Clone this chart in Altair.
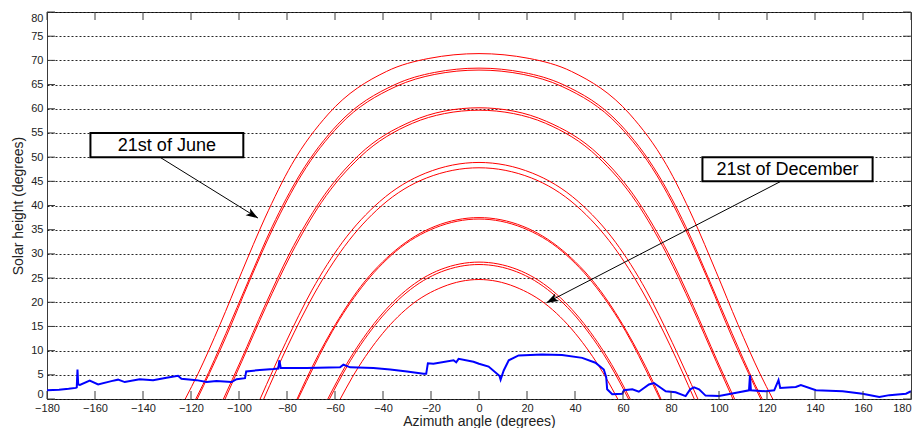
import math
import altair as alt
import pandas as pd

# ---------------- data ----------------
X_TICKS = list(range(-180, 181, 20))
Y_TICKS = list(range(0, 81, 5))

JUN_AZ = [-122.4, -117.1, -107.9, -98.8, -89.2, -78.0, -62.8, -38.6, -20.9, 0.0, 20.9, 38.6, 62.8, 78.0, 89.2, 98.8, 107.9, 117.1, 122.4]
JUN_H = [0.0, 5.2, 15.4, 26.3, 37.4, 48.5, 58.9, 67.7, 70.4, 71.4, 70.4, 67.7, 58.9, 48.5, 37.4, 26.3, 15.4, 5.2, 0.0]

JUL_AZ = [-118.0, -115.0, -105.5, -96.1, -86.2, -74.5, -58.8, -35.0, -18.6, 0.0, 18.6, 35.0, 58.8, 74.5, 86.2, 96.1, 105.5, 115.0, 118.0]
JUL_H = [0.0, 3.0, 13.5, 24.4, 35.6, 46.5, 56.8, 65.0, 67.5, 68.4, 67.5, 65.0, 56.8, 46.5, 35.6, 24.4, 13.5, 3.0, 0.0]

MAY_AZ = [-117.4, -114.7, -105.1, -95.8, -85.8, -74.0, -58.3, -34.6, -18.4, 0.0, 18.4, 34.6, 58.3, 74.0, 85.8, 95.8, 105.1, 114.7, 117.4]
MAY_H = [0.0, 2.8, 13.2, 24.2, 35.3, 46.3, 56.5, 64.6, 67.1, 68.0, 67.1, 64.6, 56.5, 46.3, 35.3, 24.2, 13.2, 2.8, 0.0]

AUG_AZ = [-106.5, -99.1, -89.3, -78.7, -66.2, -50.1, -28.1, -14.6, 0.0, 14.6, 28.1, 50.1, 66.2, 78.7, 89.3, 99.1, 106.5]
AUG_H = [0.0, 8.1, 19.2, 30.3, 40.9, 50.4, 57.4, 59.5, 60.2, 59.5, 57.4, 50.4, 40.9, 30.3, 19.2, 8.1, 0.0]

APR_AZ = [-105.8, -98.8, -88.9, -78.2, -65.7, -49.6, -27.7, -14.4, 0.0, 14.4, 27.7, 49.6, 65.7, 78.2, 88.9, 98.8, 105.8]
APR_H = [0.0, 7.8, 18.9, 30.0, 40.6, 50.0, 57.0, 59.0, 59.7, 59.0, 57.0, 50.0, 40.6, 30.0, 18.9, 7.8, 0.0]

SEP_AZ = [-91.2, -80.5, -69.6, -56.9, -41.4, -22.2, 0.0, 22.2, 41.4, 56.9, 69.6, 80.5, 91.2]
SEP_H = [0.0, 11.7, 22.5, 32.4, 40.8, 46.7, 48.9, 46.7, 40.8, 32.4, 22.5, 11.7, 0.0]

MAR_AZ = [-89.7, -79.7, -68.7, -56.1, -40.7, -21.8, 0.0, 21.8, 40.7, 56.1, 68.7, 79.7, 89.7]
MAR_H = [0.0, 11.0, 21.7, 31.5, 39.9, 45.7, 47.8, 45.7, 39.9, 31.5, 21.7, 11.0, 0.0]

FEB_AZ = [-75.8, -72.2, -61.4, -49.2, -34.9, -18.3, 0.0, 18.3, 34.9, 49.2, 61.4, 72.2, 75.8]
FEB_H = [0.0, 3.9, 14.1, 23.3, 30.7, 35.7, 37.5, 35.7, 30.7, 23.3, 14.1, 3.9, 0.0]

OCT_AZ = [-75.4, -71.9, -61.2, -49.0, -34.7, -18.2, 0.0, 18.2, 34.7, 49.0, 61.2, 71.9, 75.4]
OCT_H = [0.0, 3.6, 13.9, 23.0, 30.5, 35.4, 37.2, 35.4, 30.5, 23.0, 13.9, 3.6, 0.0]

JAN_AZ = [-63.0, -55.3, -43.7, -30.6, -15.8, 0.0, 15.8, 30.6, 43.7, 55.3, 63.0]
JAN_H = [0.0, 7.1, 15.6, 22.4, 26.8, 28.3, 26.8, 22.4, 15.6, 7.1, 0.0]

NOV_AZ = [-62.3, -54.9, -43.4, -30.4, -15.7, 0.0, 15.7, 30.4, 43.4, 54.9, 62.3]
NOV_H = [0.0, 6.8, 15.2, 21.9, 26.3, 27.8, 26.3, 21.9, 15.2, 6.8, 0.0]

DEC_AZ = [-57.8, -52.9, -41.7, -29.1, -15.0, 0.0, 15.0, 29.1, 41.7, 52.9, 57.8]
DEC_H = [0.0, 4.4, 12.6, 19.1, 23.2, 24.7, 23.2, 19.1, 12.6, 4.4, 0.0]

HORIZON_AZ = [-180, -175, -171, -168, -167.6, -167.3, -167.0, -166.3, -162.2, -158.7, -153.2, -150.4,
              -147.6, -141.4, -135.8, -130.2, -125.4, -124.0, -117.7, -113.5, -109.4, -103.1, -101.0,
              -97.5, -97.0, -91.3, -85.7, -83.6, -83.2, -82.6, -71.8, -57.9, -56.5, -53.7, -44.0,
              -37.0, -30.0, -23.1, -22.0, -21.3, -19.0, -10.6, -9.5, -8.5, -2.3, 0.0, 4.0, 8.5, 9.0,
              10.3, 12.4, 16.5, 26.3, 34.6, 43.0, 48.5, 52.0, 53.0, 53.4, 55.5, 59.7, 60.4, 63.9,
              66.6, 70.8, 72.9, 77.8, 81.9, 86.1, 88.0, 89.6, 91.7, 94.4, 100.0, 108.3, 112.5, 112.9,
              113.3, 119.5, 123.0, 124.8, 125.5, 132.0, 134.1, 140.4, 151.5, 159.8, 166.8, 171.0,
              177.9, 180.0]
HORIZON_H = [1.8, 1.9, 2.1, 2.3, 2.4, 6.1, 3.0, 2.9, 3.8, 3.0, 3.7, 4.0,
             3.5, 4.1, 3.9, 4.4, 4.8, 4.2, 3.9, 3.5, 3.7, 3.5, 4.1,
             4.3, 5.7, 6.0, 6.2, 6.3, 8.0, 6.4, 6.4, 6.55, 7.1, 6.55, 6.4,
             6.1, 5.7, 5.2, 5.2, 7.4, 7.3, 8.0, 7.6, 8.3, 7.7, 7.3, 6.7, 4.8, 4.0,
             5.9, 8.0, 9.0, 9.2, 9.1, 8.5, 7.5, 6.1, 4.5, 2.0, 1.0, 1.1, 1.8, 2.0,
             1.5, 3.0, 3.3, 1.6, 1.4, 0.6, 2.0, 2.4, 2.0, 0.7, 0.6, 1.4, 1.8, 4.9,
             1.8, 1.6, 1.8, 3.9, 2.3, 2.5, 2.9, 1.8, 1.6, 1.1, 0.4, 0.8,
             1.1, 1.6]

ANNOT_TEXT = ["21st of June", "21st of December"]
BOX_AZ1 = [-161.9, 93.1]
BOX_AZ2 = [-98.2, 164.0]
BOX_H1 = [55.0, 50.0]
BOX_H2 = [50.0, 45.0]
ARROW_FROM_AZ = [-133.0, 125.8]
ARROW_FROM_H = [50.0, 45.0]
ARROW_TO_AZ = [-92.1, 28.1]
ARROW_TO_H = [37.4, 19.9]

# ---------------- layout / style ----------------
W, H = 864, 387
FONT = "Liberation Sans"
RED = "#ff0000"
FRAME = "#3a3a3a"
TXT = "#222222"

curves = [
    ("Jun", JUN_AZ, JUN_H), ("Jul", JUL_AZ, JUL_H), ("May", MAY_AZ, MAY_H),
    ("Aug", AUG_AZ, AUG_H), ("Apr", APR_AZ, APR_H), ("Sep", SEP_AZ, SEP_H),
    ("Mar", MAR_AZ, MAR_H), ("Feb", FEB_AZ, FEB_H), ("Oct", OCT_AZ, OCT_H),
    ("Jan", JAN_AZ, JAN_H), ("Nov", NOV_AZ, NOV_H), ("Dec", DEC_AZ, DEC_H),
]
rows = []
for name, az, h in curves:
    for i, (a, v) in enumerate(zip(az, h)):
        rows.append({"curve": name, "i": i, "az": a, "h": v})
sun_df = pd.DataFrame(rows)

hor_df = pd.DataFrame({"az": HORIZON_AZ, "h": HORIZON_H, "i": range(len(HORIZON_AZ))})

box_df = pd.DataFrame({"az": BOX_AZ1, "az2": BOX_AZ2, "h": BOX_H1, "h2": BOX_H2, "label": ANNOT_TEXT})
box_df["cx"] = (box_df["az"] + box_df["az2"]) / 2
box_df["cy"] = (box_df["h"] + box_df["h2"]) / 2

arr_df = pd.DataFrame({"az": ARROW_FROM_AZ, "h": ARROW_FROM_H, "az2": ARROW_TO_AZ, "h2": ARROW_TO_H})
px_x = W / 360.0
px_y = H / 80.0
arr_df["ang"] = [
    (math.degrees(math.atan2(-(h2 - h1) * px_y, (a2 - a1) * px_x)) + 360) % 360
    for a1, h1, a2, h2 in zip(ARROW_FROM_AZ, ARROW_FROM_H, ARROW_TO_AZ, ARROW_TO_H)
]

xscale = alt.Scale(domain=[-180, 180], nice=False, zero=False)
yscale = alt.Scale(domain=[0, 80], nice=False, zero=False)

x_axis = alt.Axis(
    values=X_TICKS, title="Azimuth angle (degrees)", grid=False, tickSize=0, domain=False,
    labelPadding=3, labelFlush=False, labelFontSize=11, labelFont=FONT, labelColor=TXT,
    labelAlign={"condition": {"test": "datum.value >= 180", "value": "right"}, "value": "center"},
    titleFont=FONT, titleFontSize=14, titleFontWeight="normal", titleColor=TXT,
    titleY=26, titleBaseline="alphabetic",
)
y_axis = alt.Axis(
    values=Y_TICKS, title="Solar height (degrees)", grid=True, gridDash=[2, 2], gridColor="#000000",
    gridOpacity=0.85, gridWidth=1, tickSize=0, domain=False,
    labelPadding=4, labelFlush=3, labelFontSize=11, labelFont=FONT, labelColor=TXT,
    titleFont=FONT, titleFontSize=14, titleFontWeight="normal", titleColor=TXT,
    titleX=-29, titleBaseline="middle", titleAngle=270,
)

X = lambda f: alt.X(f, scale=xscale, axis=x_axis)
Y = lambda f: alt.Y(f, scale=yscale, axis=y_axis)

sun = alt.Chart(sun_df).mark_line(color=RED, strokeWidth=1, interpolate="monotone").encode(
    x=X("az:Q"), y=Y("h:Q"), detail="curve:N", order="i:Q",
)

horizon = alt.Chart(hor_df).mark_line(color="#0000ff", strokeWidth=2).encode(
    x=X("az:Q"), y=Y("h:Q"), order="i:Q",
)

xt = pd.DataFrame({"az": X_TICKS})
yt = pd.DataFrame({"h": Y_TICKS})
tick_bottom = alt.Chart(xt).mark_rule(color=FRAME, strokeWidth=1).encode(
    x=X("az:Q"), y=alt.value(H), y2=alt.value(H - 8))
tick_top = alt.Chart(xt).mark_rule(color=FRAME, strokeWidth=1).encode(
    x=X("az:Q"), y=alt.value(0), y2=alt.value(8))
tick_left = alt.Chart(yt).mark_rule(color=FRAME, strokeWidth=1).encode(
    y=Y("h:Q"), x=alt.value(0), x2=alt.value(8))
tick_right = alt.Chart(yt).mark_rule(color=FRAME, strokeWidth=1).encode(
    y=Y("h:Q"), x=alt.value(W - 8), x2=alt.value(W))

boxes = alt.Chart(box_df).mark_rect(fill="white", stroke="black", strokeWidth=2).encode(
    x=X("az:Q"), x2="az2:Q", y=Y("h:Q"), y2="h2:Q",
)
labels = alt.Chart(box_df).mark_text(font=FONT, fontSize=18, color="black", baseline="middle",
                                     align="center", dy=1).encode(
    x=X("cx:Q"), y=Y("cy:Q"), text="label:N",
)
arrow_lines = alt.Chart(arr_df).mark_rule(color="black", strokeWidth=1).encode(
    x=X("az:Q"), x2="az2:Q", y=Y("h:Q"), y2="h2:Q",
)
arrow_heads = alt.Chart(arr_df).mark_point(
    shape="M0,0L-2,-0.7L-1.5,0L-2,0.7Z", filled=True, size=144, color="black", opacity=1, strokeWidth=0
).encode(
    x=X("az2:Q"), y=Y("h2:Q"), angle=alt.Angle("ang:Q", scale=None),
)

chart = alt.layer(
    sun, horizon, tick_bottom, tick_top, tick_left, tick_right,
    arrow_lines, arrow_heads, boxes, labels,
).properties(
    width=W, height=H,
    autosize=alt.AutoSizeParams(type="none"),
    padding={"left": 39, "top": 4, "right": 1, "bottom": 29},
    background="white",
).configure_view(stroke=FRAME, strokeWidth=1)

chart.save("out.html", embed_options={"renderer": "svg", "actions": False})
